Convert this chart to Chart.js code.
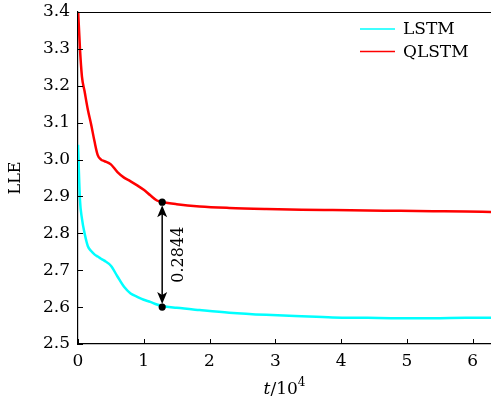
<!DOCTYPE html>
<html>
<head>
<meta charset="utf-8">
<script src="https://cdn.jsdelivr.net/npm/chart.js@4/dist/chart.umd.min.js"></script>
<style>
html,body{margin:0;padding:0;background:#fff;}
#wrap{width:491px;height:403px;}
</style>
</head>
<body>
<div id="wrap"><canvas id="myChart" width="491" height="403"></canvas></div>
<script>
// values, t in units of 10^4
const tValues = [0, 0.03, 0.06, 0.1, 0.15, 0.2, 0.25, 0.3, 0.35, 0.4, 0.5, 0.6, 0.7, 0.8, 0.9, 1.0, 1.1, 1.2, 1.28, 1.5, 1.85, 2.3, 2.86, 3.4, 3.87, 4.4, 4.9, 5.4, 5.9, 6.28]
const lstm = [3.04, 2.89, 2.84, 2.80, 2.765, 2.752, 2.743, 2.737, 2.731, 2.726, 2.712, 2.683, 2.655, 2.637, 2.628, 2.620, 2.614, 2.607, 2.603, 2.598, 2.592, 2.585, 2.579, 2.575, 2.572, 2.571, 2.570, 2.570, 2.571, 2.571]
const qlstm = [3.41, 3.30, 3.225, 3.185, 3.135, 3.095, 3.05, 3.012, 3.0, 2.996, 2.987, 2.966, 2.951, 2.941, 2.930, 2.918, 2.903, 2.889, 2.885, 2.879, 2.873, 2.869, 2.866, 2.864, 2.863, 2.862, 2.861, 2.860, 2.859, 2.858]
const seriesNames = ['LSTM', 'QLSTM']
const xTicks = [0, 1, 2, 3, 4, 5, 6]
const yTicks = [2.5, 2.6, 2.7, 2.8, 2.9, 3.0, 3.1, 3.2, 3.3, 3.4]
// the marked gap
const gapT = 1.28
const gapLow = 2.6
const gapHigh = 2.8844
const gapLabel = '0.2844'

const serif = "'DejaVu Serif', serif"

function pts(ys){
	return tValues.map((t,i)=>({x:t, y:ys[i]}))
}

const extras = {
	id: 'extras',
	afterDraw(chart){
		const ctx = chart.ctx
		const a = chart.chartArea
		const xs = chart.scales.x, ys = chart.scales.y
		ctx.save()
		ctx.strokeStyle = '#000'
		ctx.lineWidth = 1
		// top frame line
		const ty = Math.round(a.top) + 0.5
		ctx.beginPath()
		ctx.moveTo(a.left, ty); ctx.lineTo(a.right, ty)
		ctx.stroke()
		// inward ticks
		ctx.beginPath()
		xTicks.forEach(v=>{
			const px = Math.round(xs.getPixelForValue(v)) + 0.5
			ctx.moveTo(px, a.bottom); ctx.lineTo(px, a.bottom - 5)
		})
		yTicks.forEach(v=>{
			const py = Math.round(ys.getPixelForValue(v)) + 0.5
			ctx.moveTo(a.left, py); ctx.lineTo(a.left + 5, py)
		})
		ctx.stroke()

		// gap arrow
		const gx = xs.getPixelForValue(gapT)
		const gy1 = ys.getPixelForValue(gapHigh)
		const gy2 = ys.getPixelForValue(gapLow)
		ctx.fillStyle = '#000'
		ctx.lineWidth = 1.5
		ctx.beginPath()
		ctx.moveTo(gx, gy1 + 8); ctx.lineTo(gx, gy2 - 8)
		ctx.stroke()
		function head(y, dir){
			ctx.beginPath()
			ctx.moveTo(gx, y)
			ctx.lineTo(gx - 5, y + dir*12)
			ctx.lineTo(gx, y + dir*9)
			ctx.lineTo(gx + 5, y + dir*12)
			ctx.closePath()
			ctx.fill()
		}
		head(gy1 + 3, 1)
		head(gy2 - 3, -1)
		;[gy1, gy2].forEach(y=>{
			ctx.beginPath(); ctx.arc(gx, y, 3.6, 0, Math.PI*2); ctx.fill()
		})
		ctx.save()
		ctx.translate(gx + 17, (gy1 + gy2)/2)
		ctx.rotate(-Math.PI/2)
		ctx.font = '16px ' + serif
		ctx.textAlign = 'center'
		ctx.textBaseline = 'middle'
		ctx.fillText(gapLabel, 0, 0)
		ctx.restore()

		// legend
		ctx.font = '17px ' + serif
		ctx.textAlign = 'left'
		ctx.textBaseline = 'middle'
		chart.data.datasets.forEach((ds,i)=>{
			const ly = 29 + i*22.5
			ctx.strokeStyle = ds.borderColor
			ctx.lineWidth = 1.3
			ctx.beginPath(); ctx.moveTo(360, ly); ctx.lineTo(395, ly); ctx.stroke()
			ctx.fillStyle = '#000'
			ctx.fillText(ds.label, 403, ly + 1)
		})

		// axis titles
		ctx.font = '16px ' + serif
		ctx.save()
		ctx.translate(16, (a.top + a.bottom)/2)
		ctx.rotate(-Math.PI/2)
		ctx.textAlign = 'center'
		ctx.fillText('LLE', 0, 0)
		ctx.restore()
		const cx = (a.left + a.right)/2
		ctx.textBaseline = 'alphabetic'
		ctx.font = 'italic 17px ' + serif
		const w1 = ctx.measureText('t').width
		ctx.font = '17px ' + serif
		const w2 = ctx.measureText('/10').width
		ctx.font = '12px ' + serif
		const w3 = ctx.measureText('4').width
		let x0 = cx - (w1 + w2 + w3)/2
		ctx.font = 'italic 17px ' + serif
		ctx.fillText('t', x0, 394)
		ctx.font = '17px ' + serif
		ctx.fillText('/10', x0 + w1, 394)
		ctx.font = '12px ' + serif
		ctx.fillText('4', x0 + w1 + w2, 386)
		ctx.restore()
	}
}

function draw(){
	const ctx = document.getElementById('myChart').getContext('2d')
	new Chart(ctx, {
		type: 'line',
		data: {
			datasets: [{
				label: seriesNames[0],
				data: pts(lstm),
				borderColor: '#00ffff',
				borderWidth: 2.5,
				pointRadius: 0,
				cubicInterpolationMode: 'monotone'
			},{
				label: seriesNames[1],
				data: pts(qlstm),
				borderColor: '#ff0000',
				borderWidth: 2.5,
				pointRadius: 0,
				cubicInterpolationMode: 'monotone'
			}]
		},
		options: {
			responsive: false,
			animation: false,
			layout: {padding: {top: 12, right: 0, left: 0, bottom: 0}},
			plugins: {legend: {display: false}, tooltip: {enabled: false}},
			scales: {
				x: {
					type: 'linear', min: 0, max: 6.28,
					afterBuildTicks: s=>{ s.ticks = xTicks.map(v=>({value:v})) },
					afterFit: s=>{ s.height = 59 },
					grid: {display: true, drawOnChartArea: false, drawTicks: false},
					border: {color: '#000', width: 1.2},
					ticks: {color: '#000', padding: 7, font: {family: serif, size: 17}, callback: v=>String(v)}
				},
				y: {
					min: 2.5, max: 3.4,
					afterBuildTicks: s=>{ s.ticks = yTicks.map(v=>({value:v})) },
					afterFit: s=>{ s.width = 78; s.paddingTop = 0; s.paddingBottom = 0 },
					grid: {display: true, drawOnChartArea: false, drawTicks: false},
					border: {color: '#000', width: 1.2},
					ticks: {color: '#000', padding: 8, font: {family: serif, size: 17, lineHeight: 0.6}, callback: v=>v.toFixed(1)}
				}
			}
		},
		plugins: [extras]
	})
}

window.onload = ()=>{ draw() }
</script>
</body>
</html>
